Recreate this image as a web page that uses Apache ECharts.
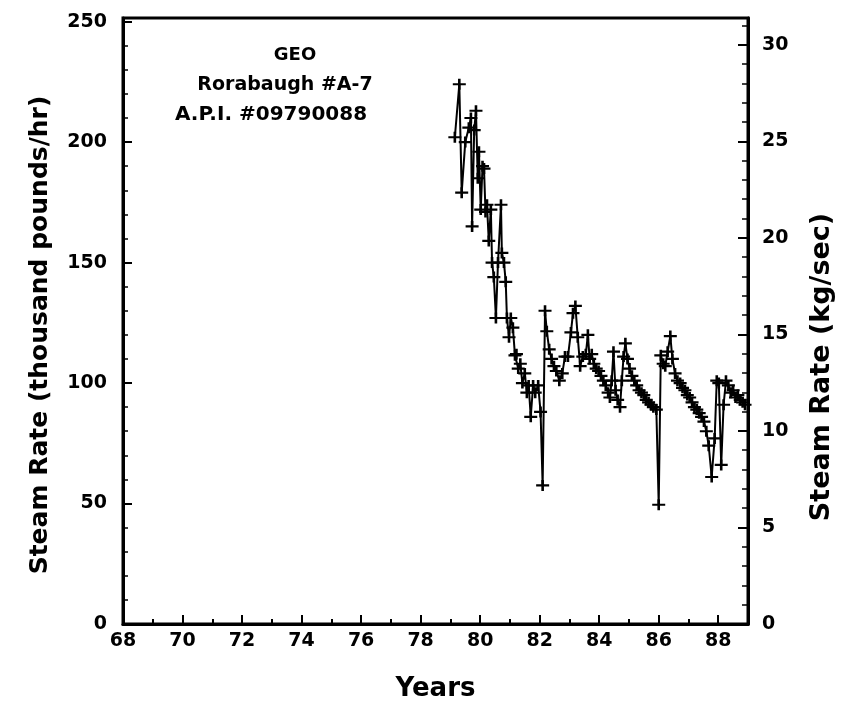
<!DOCTYPE html>
<html><head><meta charset="utf-8">
<script src="https://cdn.jsdelivr.net/npm/echarts@6/dist/echarts.min.js"></script>
<style>html,body{margin:0;padding:0;background:#fff;overflow:hidden;width:850px;height:707px}#c{position:absolute;left:0;top:0;width:850px;height:707px}</style>
</head><body><div id="c"></div>
<script>
const years = [79.15,79.30,79.38,79.50,79.62,79.69,79.73,79.80,79.86,79.92,79.96,80.02,80.08,80.13,80.18,80.23,80.29,80.36,80.40,80.46,80.53,80.60,80.70,80.73,80.80,80.86,80.90,80.97,81.03,81.10,81.17,81.22,81.28,81.35,81.42,81.50,81.57,81.63,81.70,81.78,81.85,81.95,82.03,82.10,82.18,82.24,82.32,82.40,82.48,82.56,82.66,82.76,82.85,82.95,83.05,83.12,83.20,83.28,83.36,83.45,83.55,83.62,83.68,83.75,83.82,83.90,83.98,84.06,84.14,84.22,84.30,84.36,84.42,84.48,84.55,84.62,84.70,84.76,84.82,84.88,84.95,85.02,85.10,85.18,85.26,85.34,85.42,85.50,85.58,85.66,85.74,85.82,85.92,86.00,86.07,86.15,86.22,86.30,86.39,86.46,86.55,86.63,86.72,86.80,86.88,86.96,87.04,87.12,87.20,87.28,87.36,87.44,87.52,87.60,87.68,87.78,87.88,87.95,88.02,88.10,88.18,88.26,88.34,88.42,88.50,88.58,88.66,88.74,88.82,88.90];
const steamRate = [202,224,179,200,206,210,165,205,213,185,196,172,190,189,171,174,159,172,150,144,127,150,174,154,150,142,127,119,127,123,111.5,112,106,108,100,104,96,99,86,99,96,99,88,57.5,130,121.5,114,110,107,105,101,104,111,111,121,129,132,119,107,111,112,120,110,112,108,106,105,103,101,99,96,94,101,113,97,93,90,101,111,116.5,110,106,103,101,99,97,96,95,93,92,91,90,89,49.5,111.5,108,107,113,119.5,110,104,101,100,98,97,95,94,92,90,89,87.5,86,84,80,74,61,77,101,100,66,91,101,99,96,97,94,95,93,92,91];
const xTickYears = [68,70,72,74,76,78,80,82,84,86,88];
const leftTicks = [0,50,100,150,200,250];
const rightTicks = [0,5,10,15,20,25,30];
const annotation = ['GEO','Rorabaugh #A-7','A.P.I. #09790088'];
const KG_PER_KLB = 0.1248;
const LEFT_MAX = 251.5;

const font = 'DejaVu Sans';
const chart = echarts.init(document.getElementById('c'), null, {renderer:'canvas'});
const plus = 'path://M4,0H6V4H10V6H6V10H4V6H0V4H4Z';
chart.setOption({
  animation:false,
  backgroundColor:'#fff',
  grid:{left:123,right:102,top:18,bottom:80,show:true,borderColor:'#000',borderWidth:3,backgroundColor:'transparent'},
  xAxis:{type:'value',min:68,max:89,interval:2,
    axisLine:{show:true,lineStyle:{color:'#000',width:3}},
    axisTick:{show:true,inside:true,length:9,lineStyle:{color:'#000',width:2}},
    minorTick:{show:true,splitNumber:2,length:5,lineStyle:{color:'#000',width:2}},
    splitLine:{show:false},
    axisLabel:{color:'#000',fontFamily:font,fontWeight:'bold',fontSize:19,margin:8,showMaxLabel:false,
      formatter:v=>xTickYears.includes(v)?String(v):''},
    name:'Years',nameLocation:'middle',nameGap:52,
    nameTextStyle:{color:'#000',fontFamily:font,fontWeight:'bold',fontSize:26}
  },
  yAxis:[{type:'value',min:0,max:LEFT_MAX,interval:50,position:'left',
    axisLine:{show:true,lineStyle:{color:'#000',width:3}},
    axisTick:{show:true,inside:true,length:9,lineStyle:{color:'#000',width:2}},
    minorTick:{show:true,splitNumber:5,length:5,lineStyle:{color:'#000',width:1.5}},
    splitLine:{show:false},
    axisLabel:{color:'#000',fontFamily:font,fontWeight:'bold',fontSize:19,margin:16,showMaxLabel:false,
      formatter:v=>leftTicks.includes(v)?String(v):''}
  },{type:'value',min:0,max:LEFT_MAX*KG_PER_KLB,interval:5,position:'right',
    axisLine:{show:true,lineStyle:{color:'#000',width:3}},
    axisTick:{show:true,inside:true,length:10,lineStyle:{color:'#000',width:2}},
    minorTick:{show:true,splitNumber:5,length:6,lineStyle:{color:'#000',width:1.5}},
    splitLine:{show:false},
    axisLabel:{color:'#000',fontFamily:font,fontWeight:'bold',fontSize:19,margin:14,showMaxLabel:false,
      formatter:v=>rightTicks.includes(v)?String(v):''}
  }],
  graphic:[
    {type:'text',x:40,y:335,rotation:Math.PI/2,style:{text:'Steam Rate (thousand pounds/hr)',fill:'#000',font:'bold 25px DejaVu Sans',align:'center',verticalAlign:'middle'}},
    {type:'text',x:822,y:367,rotation:Math.PI/2,style:{text:'Steam Rate (kg/sec)',fill:'#000',font:'bold 27px DejaVu Sans',align:'center',verticalAlign:'middle'}},
    {type:'text',x:295,y:55,style:{text:annotation[0],fill:'#000',font:'bold 18px DejaVu Sans',align:'center',verticalAlign:'middle'}},
    {type:'text',x:285,y:85,style:{text:annotation[1],fill:'#000',font:'bold 19px DejaVu Sans',align:'center',verticalAlign:'middle'}},
    {type:'text',x:271,y:115,style:{text:annotation[2],fill:'#000',font:'bold 20px DejaVu Sans',align:'center',verticalAlign:'middle'}}
  ],
  series:[{type:'line',yAxisIndex:0,data:years.map((y,i)=>[y,steamRate[i]]),
    symbol:plus,symbolSize:[13,11],showAllSymbol:true,
    lineStyle:{color:'#000',width:2},itemStyle:{color:'#000'}
  }]
});
</script></body></html>
